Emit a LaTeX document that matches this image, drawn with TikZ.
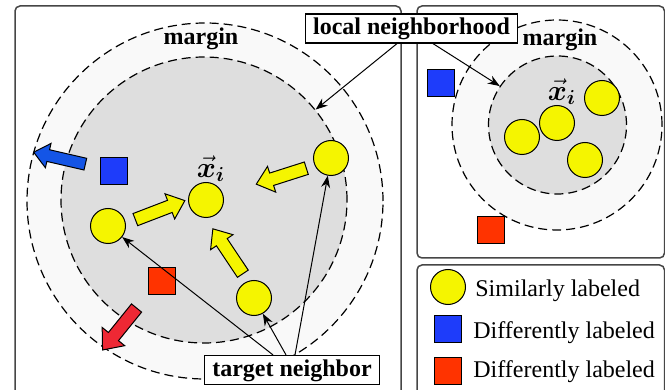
\RequirePackage{fix-cm}
\documentclass[tikz,border=0pt]{standalone}
\usepackage{amsmath,bm}
\usepackage{fontspec}
\setmainfont{Liberation Serif}
\usetikzlibrary{shapes.arrows,arrows.meta}
\definecolor{ylw}{RGB}{245,245,0}
\definecolor{sqblue}{RGB}{30,60,250}
\definecolor{sqred}{RGB}{255,51,0}
\definecolor{arblue}{RGB}{20,85,230}
\definecolor{arred}{RGB}{238,40,52}
\definecolor{ringgray}{RGB}{249,249,249}
\definecolor{innergray}{RGB}{222,222,222}
\definecolor{panelline}{RGB}{70,70,70}
\tikzset{
  panel/.style={draw=panelline, line width=0.75pt, rounded corners=2.5pt, fill=white},
  ring/.style={circle, draw, dash pattern=on 4.5pt off 2.5pt, line width=0.6pt, inner sep=0pt},
  dot/.style={circle, draw, line width=0.5pt, fill=ylw, minimum size=17.5pt, inner sep=0pt},
  sq/.style={draw, line width=0.5pt, minimum size=13.5pt, inner sep=0pt},
  blockarrow/.style={single arrow, draw, line width=0.5pt, inner xsep=0pt, single arrow tip angle=80},
  lbl/.style={draw, fill=white, line width=0.6pt, font=\fontsize{12}{14.4}\selectfont\bfseries, inner xsep=4pt, inner ysep=1.75pt, text height=8.5pt, text depth=2.5pt},
  boldtxt/.style={font=\fontsize{12}{14.4}\selectfont\bfseries},
  plaintxt/.style={font=\fontsize{12}{14.4}\selectfont, anchor=base west, inner sep=0pt},
  conn/.style={-{Stealth[length=6pt,width=4.5pt]}, line width=0.5pt},
  vecx/.style={font=\fontsize{14.5}{16}\selectfont, inner sep=0pt}
}
\begin{document}
\begin{tikzpicture}[x=0.5pt,y=-0.5pt]
\useasboundingbox (0,0) rectangle (665,390);
% panels
\draw[panel] (15,6) rectangle (401,400);
\draw[panel] (417,6) rectangle (664.5,258);
\draw[panel] (417,265) rectangle (664.5,400);
% left neighbourhood
\node[ring, fill=ringgray, minimum size=178pt] (lout) at (205,201) {};
\node[ring, fill=innergray, minimum size=143pt] (lin) at (204,200) {};
\node[boldtxt] (lmargin) at (201,39) {margin};
% right neighbourhood
\node[ring, fill=ringgray, minimum size=105pt] (rout) at (557,125) {};
\node[ring, fill=innergray, minimum size=69pt] (rin) at (557.5,125) {};
\node[boldtxt] (rmargin) at (560,40) {margin};
% left items
\node[sq, fill=sqblue] (lblue) at (114,171) {};
\node[sq, fill=sqred] (lred) at (162,281) {};
\node[dot] (xc) at (206,200) {};
\node[vecx] (xlab) at (211,169) {$\vec{\bm{x}}_{\bm{i}}$};
\node[dot] (ca) at (108,226) {};
\node[dot] (cb) at (331,158) {};
\node[dot] (cc) at (254,298) {};
\node[blockarrow, fill=ylw, inner ysep=3pt, single arrow head extend=3.5pt, minimum height=26.5pt, rotate=21] (ya1) at (156.5,211.5) {};
\node[blockarrow, fill=ylw, inner ysep=3pt, single arrow head extend=3.5pt, minimum height=26.25pt, rotate=197.7] (ya2) at (285,175) {};
\node[blockarrow, fill=ylw, inner ysep=3pt, single arrow head extend=3.5pt, minimum height=27pt, rotate=123.7] (ya3) at (230,254.5) {};
\node[blockarrow, fill=arblue, inner ysep=2.75pt, single arrow head extend=3.25pt, minimum height=26.5pt, rotate=167] (ba) at (63,159) {};
\node[blockarrow, fill=arred, inner ysep=3pt, single arrow head extend=4pt, minimum height=27pt, rotate=231] (ra) at (122,326) {};
% right items
\node[sq, fill=sqblue] (rblue) at (441,83) {};
\node[sq, fill=sqred] (rred) at (491,230) {};
\node[dot] (r1) at (522,137) {};
\node[dot] (r2) at (557,123) {};
\node[dot] (r3) at (602,98) {};
\node[dot] (r4) at (585,160) {};
\node[vecx] (rxlab) at (562,92) {$\vec{\bm{x}}_{\bm{i}}$};
% labels and connectors
\node[lbl] (ln) at (411.5,28.5) {local neighborhood};
\node[lbl] (tn) at (292,370) {target neighbor};
\draw[conn] ([xshift=-7.25pt]ln.south) -- (lin.39.5);
\draw[conn] ([xshift=10.75pt]ln.south) -- (rin.146.5);
\draw[conn] ([xshift=-9.5pt]tn.north) -- (ca);
\draw[conn] ([xshift=-3pt]tn.north) -- (cc);
\draw[conn] ([xshift=1.5pt]tn.north) -- (cb);
% legend
\node[dot] (lg1) at (448,287) {};
\node[sq, fill=sqblue] (lg2) at (448,329) {};
\node[sq, fill=sqred] (lg3) at (448,371) {};
\node[plaintxt] (lt1) at (475,296.5) {Similarly labeled};
\node[plaintxt] (lt2) at (473,338) {Differently labeled};
\node[plaintxt] (lt3) at (473,378) {Differently labeled};
\end{tikzpicture}
\end{document}
